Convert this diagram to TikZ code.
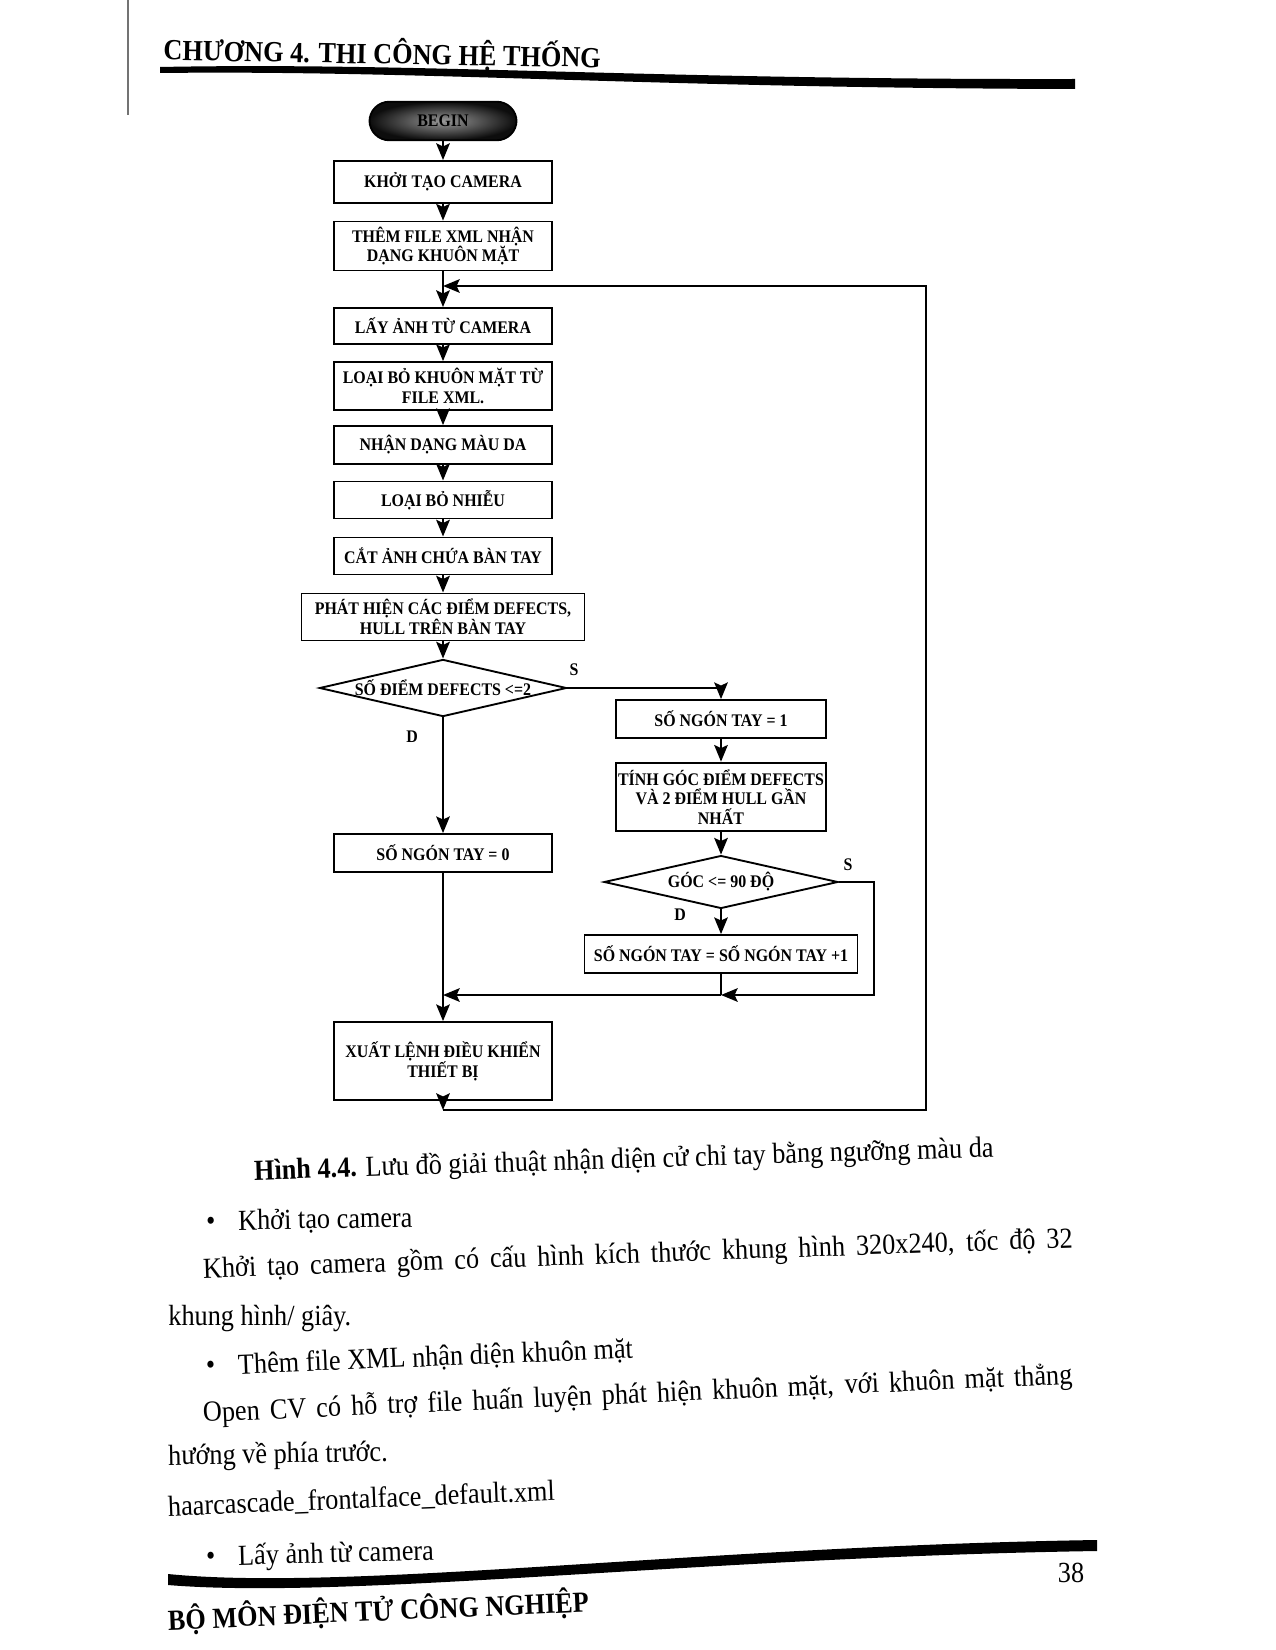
\documentclass[tikz,border=0pt]{standalone}
\usepackage{fontspec}
\setmainfont{Liberation Serif}[FakeStretch=0.9]
\usetikzlibrary{shapes.geometric, arrows.meta, positioning}
\tikzset{
    block/.style={rectangle, draw, line width=0.9pt, align=center, inner sep=1pt, minimum width=104.6pt, font=\fontsize{8.5}{9.5}\selectfont\bfseries},
    decision/.style={diamond, draw, line width=0.9pt, align=center, inner sep=0pt, shape aspect=4.3, font=\fontsize{8.5}{9.5}\selectfont\bfseries},
    startstop/.style={rectangle, draw, line width=0.9pt, rounded corners=9.5pt, minimum width=70.6pt, minimum height=18.5pt, shading=radial, inner color=black!40, outer color=black!95, font=\fontsize{8.5}{9.5}\selectfont\bfseries},
    arrow/.style={line width=1.1pt, -{Stealth[length=8pt, width=6.5pt, inset=1.5pt]}},
    line/.style={line width=1.1pt},
    lbl/.style={font=\fontsize{8.5}{10}\selectfont\bfseries, inner sep=0pt},
    body/.style={anchor=base west, inner sep=0pt, font=\fontsize{14}{16}\selectfont}
}

\begin{document}
\begin{tikzpicture}[x=0.48pt, y=-0.48pt]
    \useasboundingbox (0,0) rectangle (1275,1650);

    % page head and foot
    \draw[black!55, line width=0.7pt] (128,0) -- (128,115);
    \node[anchor=base west, inner sep=0pt, rotate=-1, font=\fontsize{14}{16}\selectfont\bfseries] (head) at (163,60) {CHƯƠNG 4. THI CÔNG HỆ THỐNG};
    \fill (160,67) .. controls (420,62) and (650,80) .. (1075,79) -- (1075,89) .. controls (650,88) and (420,70) .. (160,73) -- cycle;
    \fill (168,1574) .. controls (350,1592) and (700,1546) .. (1097,1540) -- (1097,1551) .. controls (700,1557) and (350,1600) .. (168,1585) -- cycle;
    \node[anchor=base, inner sep=0pt, font=\fontsize{14}{16}\selectfont] (page) at (1071,1582) {38};
    \node[anchor=base west, inner sep=0pt, rotate=2.5, font=\fontsize{14}{16}\selectfont\bfseries] (foot) at (168,1630) {BỘ MÔN ĐIỆN TỬ CÔNG NGHIỆP};

    % flowchart
    \node[startstop] (begin) at (443,121) {BEGIN};
    \node[block, minimum height=20.2pt] (khoitao) at (443,182) {KHỞI TẠO CAMERA};
    \node[block, minimum height=23.5pt] (themxml) at (443,246) {THÊM FILE XML NHẬN\\DẠNG KHUÔN MẶT};
    \coordinate (merge) at (443,286);
    \node[block, minimum height=17.3pt] (layanh) at (443,326) {LẤY ẢNH TỪ CAMERA};
    \node[block, minimum height=23pt] (loaimat) at (443,386) {LOẠI BỎ KHUÔN MẶT TỪ\\FILE XML.};
    \node[block, minimum height=18.2pt] (mauda) at (443,445) {NHẬN DẠNG MÀU DA};
    \node[block, minimum height=17.8pt] (nhieu) at (443,500) {LOẠI BỎ NHIỄU};
    \node[block, minimum height=17.8pt] (catanh) at (443,556) {CẮT ẢNH CHỨA BÀN TAY};
    \node[block, minimum width=135.8pt, minimum height=22.6pt] (phathien) at (443,617) {PHÁT HIỆN CÁC ĐIỂM DEFECTS,\\HULL TRÊN BÀN TAY};
    \node[decision, minimum width=118.6pt, minimum height=27.4pt] (sodiem) at (443,688) {SỐ ĐIỂM DEFECTS <=2};
    \node[block, minimum width=100.8pt, minimum height=18.2pt] (ngon1) at (721,719) {SỐ NGÓN TAY = 1};
    \node[block, minimum width=100.8pt, minimum height=33pt] (tinhgoc) at (721,797) {TÍNH GÓC ĐIỂM DEFECTS\\VÀ 2 ĐIỂM HULL GẦN\\NHẤT};
    \node[decision, minimum width=112.3pt, minimum height=25.4pt] (goc) at (721,882) {GÓC <= 90 ĐỘ};
    \node[block, minimum width=131pt, minimum height=18.2pt] (ngoncong) at (721,954) {SỐ NGÓN TAY = SỐ NGÓN TAY +1};
    \node[block, minimum height=18.2pt] (ngon0) at (443,853) {SỐ NGÓN TAY = 0};
    \node[block, minimum width=105pt, minimum height=37.4pt] (xuat) at (443,1061) {XUẤT LỆNH ĐIỀU KHIỂN\\THIẾT BỊ};
    \coordinate (j1) at (443,995);
    \coordinate (j2) at (721,995);
    \coordinate (c1) at (443,1110);
    \coordinate (c2) at (926,1110);
    \coordinate (c3) at (926,286);

    \draw[arrow] (begin) -- (khoitao);
    \draw[arrow] (khoitao) -- (themxml);
    \draw[arrow] (themxml) -- (layanh);
    \draw[arrow] (layanh) -- (loaimat);
    \draw[arrow] (loaimat) -- (mauda);
    \draw[arrow] (mauda) -- (nhieu);
    \draw[arrow] (nhieu) -- (catanh);
    \draw[arrow] (catanh) -- (phathien);
    \draw[arrow] (phathien) -- (sodiem);
    \draw[arrow] (sodiem.east) -| (ngon1.north);
    \draw[arrow] (sodiem.south) -- (ngon0.north);
    \draw[arrow] (ngon1) -- (tinhgoc);
    \draw[arrow] (tinhgoc) -- (goc);
    \draw[arrow] (goc.south) -- (ngoncong.north);
    \draw[arrow] (goc.east) -- ++(35,0) |- (j2);
    \draw[line] (ngoncong.south) -- (j2);
    \draw[arrow] (j2) -- (j1);
    \draw[line] (ngon0.south) -- (j1);
    \draw[arrow] (j1) -- (xuat.north);
    \draw[arrow] (xuat.south) -- (c1);
    \draw[arrow] (c1) -- (c2) -- (c3) -- (merge);

    \node[lbl] (s1) at (574,670) {S};
    \node[lbl] (d1) at (412,737) {D};
    \node[lbl] (s2) at (848,865) {S};
    \node[lbl] (d2) at (680,915) {D};

    % text below the figure
    \node[body, rotate=1.8] (caption) at (254,1180) {\textbf{Hình 4.4.} Lưu đồ giải thuật nhận diện cử chỉ tay bằng ngưỡng màu da};
    \node[body, rotate=1] (b1) at (206,1230) {\textbullet};
    \node[body, rotate=1] (t1) at (238,1230) {Khởi tạo camera};
    \node[body, rotate=2] (p1) at (203,1278) {\makebox[417.6pt][s]{Khởi tạo camera gồm có cấu hình kích thước khung hình 320x240, tốc độ 32}};
    \node[body] (p2) at (168,1325) {khung hình/ giây.};
    \node[body, rotate=2.3] (b2) at (206,1374) {\textbullet};
    \node[body, rotate=2.3] (t2) at (238,1374) {Thêm file XML nhận diện khuôn mặt};
    \node[body, rotate=2.5] (p3) at (203,1422) {\makebox[417.6pt][s]{Open CV có hỗ trợ file huấn luyện phát hiện khuôn mặt, với khuôn mặt thẳng}};
    \node[body, rotate=1] (p4) at (168,1465) {hướng về phía trước.};
    \node[body, rotate=2.3] (p5) at (168,1516) {haarcascade\_frontalface\_default.xml};
    \node[body, rotate=1.5] (b3) at (206,1565) {\textbullet};
    \node[body, rotate=1.5] (t3) at (238,1565) {Lấy ảnh từ camera};
\end{tikzpicture}
\end{document}
